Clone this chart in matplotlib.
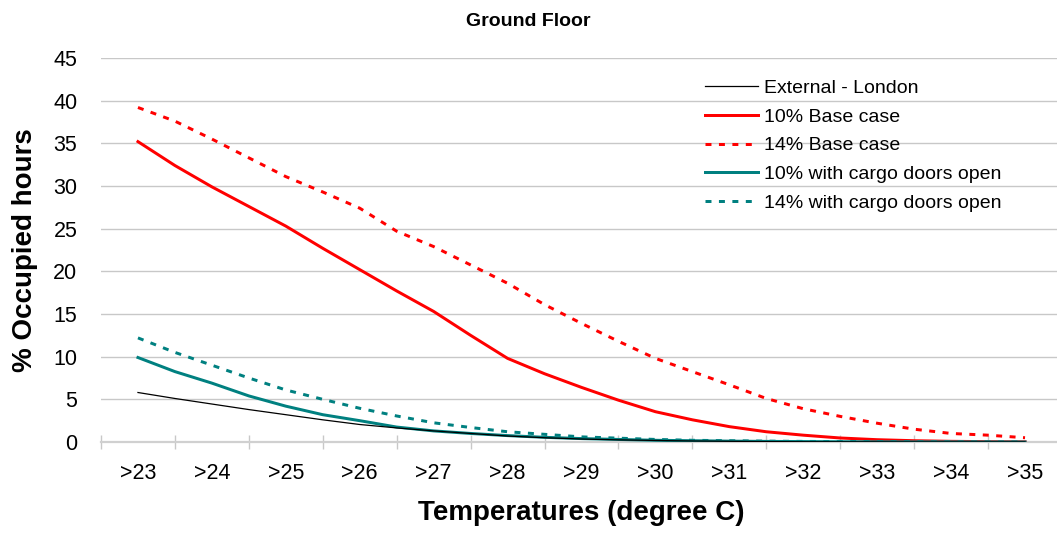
import matplotlib
matplotlib.use("Agg")
import matplotlib.pyplot as plt
from matplotlib.ticker import FixedLocator

plt.rcParams['font.family'] = ['Liberation Sans', 'DejaVu Sans']

# temperature thresholds (half-degree steps), labels only on whole degrees
temps = [23, 23.5, 24, 24.5, 25, 25.5, 26, 26.5, 27, 27.5, 28, 28.5, 29,
         29.5, 30, 30.5, 31, 31.5, 32, 32.5, 33, 33.5, 34, 34.5, 35]
tick_temps = [23, 24, 25, 26, 27, 28, 29, 30, 31, 32, 33, 34, 35]
tick_labels = ['>23', '>24', '>25', '>26', '>27', '>28', '>29', '>30',
               '>31', '>32', '>33', '>34', '>35']

external = [5.8, 5.1, 4.45, 3.8, 3.2, 2.6, 2.05, 1.65, 1.3, 1.0, 0.7, 0.5, 0.35,
            0.25, 0.18, 0.12, 0.08, 0.05, 0.03, 0.02, 0.01, 0.0, 0.0, 0.0, 0.0]
base10 = [35.2, 32.4, 29.9, 27.6, 25.3, 22.7, 20.2, 17.7, 15.3, 12.5, 9.8, 8.0,
          6.4, 4.9, 3.55, 2.6, 1.8, 1.2, 0.8, 0.47, 0.27, 0.15, 0.08, 0.04, 0.02]
base14 = [39.2, 37.6, 35.5, 33.3, 31.1, 29.3, 27.4, 24.7, 22.9, 20.75, 18.6, 16.1,
          13.9, 11.8, 9.8, 8.25, 6.7, 5.1, 3.9, 3.0, 2.2, 1.5, 1.0, 0.8, 0.5]
cargo10 = [9.9, 8.25, 6.9, 5.4, 4.2, 3.2, 2.5, 1.75, 1.3, 1.0, 0.75, 0.55, 0.4,
           0.3, 0.2, 0.15, 0.1, 0.07, 0.05, 0.03, 0.02, 0.01, 0.01, 0.0, 0.0]
cargo14 = [12.2, 10.5, 9.0, 7.5, 6.1, 5.0, 3.95, 3.05, 2.25, 1.7, 1.2, 0.9, 0.6,
           0.45, 0.3, 0.2, 0.15, 0.1, 0.07, 0.05, 0.03, 0.02, 0.01, 0.01, 0.0]

W, H = 1057, 536
fig = plt.figure(figsize=(W / 100, H / 100), dpi=100)
ax = fig.add_axes([101 / W, (H - 442) / H, 961 / W, 384 / H])

dash = (2.0, 2.5)
red = '#FF0000'
teal = '#008080'
lw = 2.15

l0, = ax.plot(temps, external, color='black', lw=0.9, zorder=6, label='External - London')
l1, = ax.plot(temps, base10, color=red, lw=lw, zorder=3, label='10% Base case')
l2, = ax.plot(temps, base14, color=red, lw=lw, dashes=dash, zorder=3, label='14% Base case')
l3, = ax.plot(temps, cargo10, color=teal, lw=lw, zorder=4, label='10% with cargo doors open')
l4, = ax.plot(temps, cargo14, color=teal, lw=lw, dashes=dash, zorder=4,
              label='14% with cargo doors open')

ax.set_xlim(22.5, 35.5)
ax.set_ylim(0, 45)
ax.set_yticks(range(0, 50, 5))
ax.yaxis.grid(True, color='#C8C8C8', lw=1)
ax.set_axisbelow(True)
ax.tick_params(axis='y', length=0, labelsize=15.5, pad=17)

ax.set_xticks(tick_temps)
ax.set_xticklabels(tick_labels)
ax.xaxis.set_minor_locator(FixedLocator([t - 0.5 for t in tick_temps] + [35.5]))
ax.tick_params(axis='x', which='major', length=0, labelsize=15.5, pad=15)
ax.tick_params(axis='x', which='minor', direction='inout', length=9.5,
               color='#C8C8C8', width=1)

for s in ['left', 'right', 'top']:
    ax.spines[s].set_visible(False)
ax.spines['bottom'].set_color('#D0D0D0')
ax.spines['bottom'].set_linewidth(1.6)

ax.set_xlabel('Temperatures (degree C)', fontsize=20, fontweight='bold')
ax.xaxis.set_label_coords(0.5, -0.151)
ax.set_ylabel('% Occupied hours', fontsize=20, fontweight='bold')
ax.yaxis.set_label_coords(-0.0656, 0.5)

fig.text(0.5, 1 - 26 / H, 'Ground Floor', ha='center', va='baseline',
         fontsize=14, fontweight='bold')

fig.legend(handles=[l0, l1, l2, l3, l4], loc='upper left',
           bbox_to_anchor=(705 / W, 1 - 79.5 / H), frameon=False, fontsize=14,
           handlelength=2.7, handletextpad=0.35, labelspacing=0.57,
           borderpad=0, borderaxespad=0)

fig.savefig('out.png', dpi=100)
